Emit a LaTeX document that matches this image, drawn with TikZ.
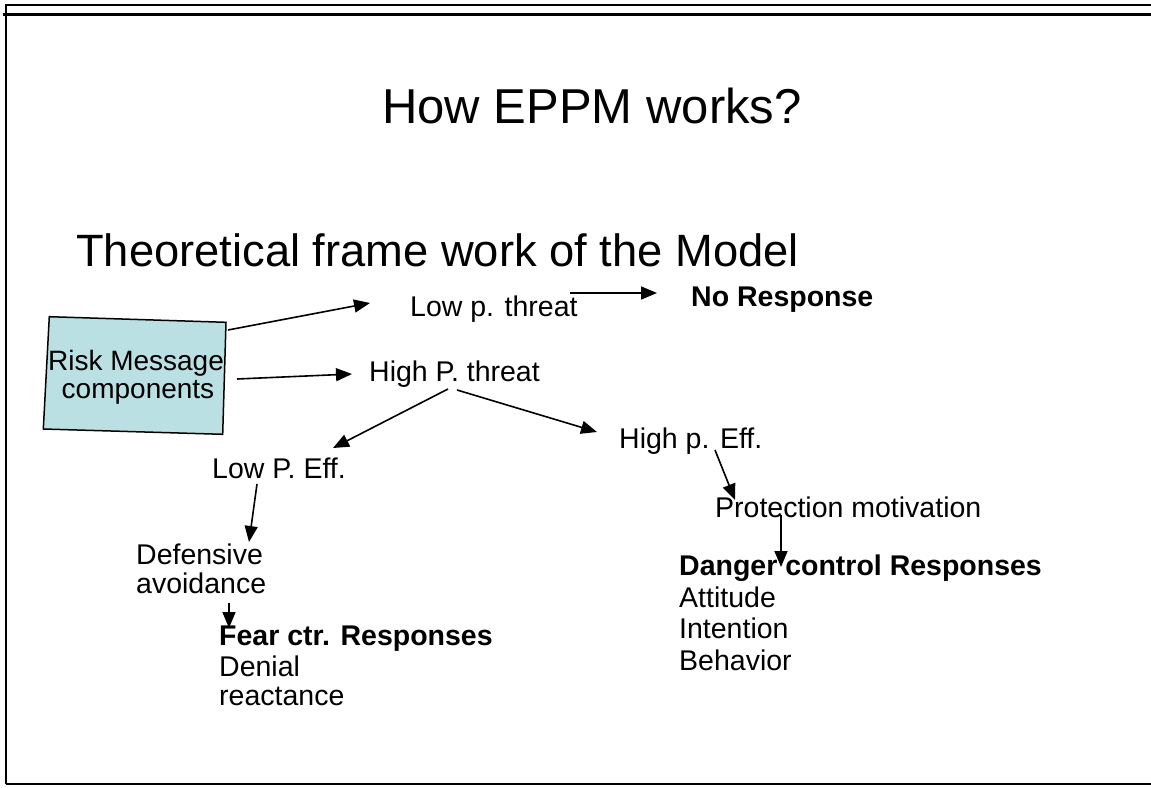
\documentclass[tikz,border=0pt]{standalone}
\usepackage{fontspec}
\setmainfont{Liberation Sans}
\usetikzlibrary{arrows.meta}
\definecolor{boxfill}{RGB}{186,224,227}
\begin{document}
\begin{tikzpicture}[x=1pt,y=-1pt,
  frame/.style={line width=2.4pt},
  lbl/.style={anchor=base west, inner sep=0pt, font=\fontsize{28.5}{30}\selectfont},
  blbl/.style={lbl, font=\fontsize{28.5}{30}\selectfont\bfseries},
  arr/.style={-{Triangle[length=16pt,width=13pt]}, line width=1.6pt},
  boxstyle/.style={draw=black, line width=1.5pt, fill=boxfill}]
\useasboundingbox (0,0) rectangle (1151,787);
% frame
\draw[frame] (6,784) -- (6,5) -- (1151,5);
\draw[frame] (3,14.5) -- (1151,14.5);
\draw[frame] (6,784) -- (1151,784);
% titles
\node[anchor=base, inner sep=0pt, font=\fontsize{49}{52}\selectfont] (title) at (592,123) {How EPPM works?};
\node[anchor=base west, inner sep=0pt, font=\fontsize{45.3}{50}\selectfont] (sub) at (76,266) {Theoretical frame work of the Model};
% box
\coordinate (b1) at (49.3,316.7);
\coordinate (b2) at (226,322.3);
\coordinate (b3) at (222.7,434.3);
\coordinate (b4) at (43.3,429);
\filldraw[boxstyle] (b1) -- (b2) -- (b3) -- (b4) -- cycle;
\node[anchor=base, inner sep=0pt, font=\fontsize{28}{28}\selectfont] (box1) at (136,370) {Risk Message};
\node[anchor=base, inner sep=0pt, font=\fontsize{28}{28}\selectfont] (box2) at (138,398) {components};
% labels
\node[lbl] (lowpt) at (410,316) {Low p. threat};
\node[blbl] (nores) at (691,306) {No Response};
\node[lbl] (highpt) at (369,381) {High P. threat};
\node[lbl] (lowpe) at (212,478) {Low P. Eff.};
\node[lbl] (highpe) at (619,448) {High p. Eff.};
\node[lbl] (def1) at (136,564) {Defensive};
\node[lbl] (def2) at (136,593) {avoidance};
\node[blbl] (fear) at (219,645) {Fear ctr. Responses};
\node[lbl] (fear1) at (219,676) {Denial};
\node[lbl] (fear2) at (219,705) {reactance};
\node[lbl] (prot) at (715,517) {Protection motivation};
\node[blbl] (dang) at (679,575) {Danger control Responses};
\node[lbl] (dang1) at (679,607) {Attitude};
\node[lbl] (dang2) at (679,638) {Intention};
\node[lbl] (dang3) at (679,670) {Behavior};
% connector end points
\coordinate (a1s) at (228,330);  \coordinate (a1e) at (370,303);
\coordinate (a2s) at (237,379);  \coordinate (a2e) at (352,374);
\coordinate (a3s) at (570,293);  \coordinate (a3e) at (657,293);
\coordinate (a4s) at (448,389);  \coordinate (a4e) at (333,448);
\coordinate (a5s) at (457,390);  \coordinate (a5e) at (597,432);
\coordinate (a6s) at (257,484);  \coordinate (a6e) at (249,542);
\coordinate (a7s) at (229,603);  \coordinate (a7e) at (229,628);
\coordinate (a8s) at (715,450);  \coordinate (a8e) at (735,500);
\coordinate (a9s) at (781,515);  \coordinate (a9e) at (781,567);
\draw[arr] (a1s) -- (a1e);
\draw[arr] (a2s) -- (a2e);
\draw[arr] (a3s) -- (a3e);
\draw[arr] (a4s) -- (a4e);
\draw[arr] (a5s) -- (a5e);
\draw[arr] (a6s) -- (a6e);
\draw[arr] (a7s) -- (a7e);
\draw[arr] (a8s) -- (a8e);
\draw[arr] (a9s) -- (a9e);
\end{tikzpicture}
\end{document}
